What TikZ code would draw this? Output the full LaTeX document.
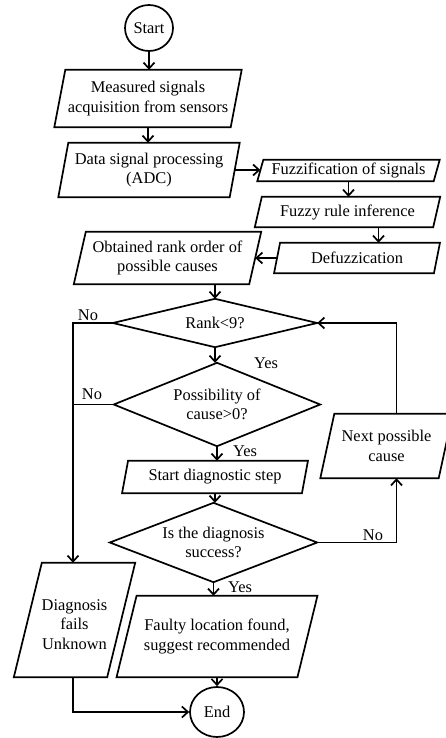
\documentclass[tikz,border=0pt]{standalone}
\usepackage{fontspec}
\setmainfont{Liberation Serif}
\usetikzlibrary{arrows.meta,calc,shapes.geometric}
\tikzset{
  txt/.style={font=\fontsize{16.4}{19.5}\selectfont},
  base/.style={txt, draw=none, inner sep=0pt, align=center},
  shp/.style={line width=1.7pt, line join=miter},
  ln/.style={line width=1.7pt},
  arr/.style={line width=1.7pt, -{Straight Barb[length=6pt,width=11pt,line width=1.7pt]}},
  lbl/.style={txt, inner sep=0pt},
  term/.style={txt, ellipse, draw, line width=1.7pt, inner sep=0pt},
}
\newcommand\parabox[2]{\draw[shp] ([xshift=#2]#1.north west) -- ([xshift=#2]#1.north east) -- ([xshift=-#2]#1.south east) -- ([xshift=-#2]#1.south west) -- cycle;}
\newcommand\diabox[1]{\draw[shp] (#1.north) -- (#1.east) -- (#1.south) -- (#1.west) -- cycle;}
\begin{document}
\begin{tikzpicture}[x=1pt,y=-1pt]
\useasboundingbox[fill=white] (0,0) rectangle (446,738);
% terminals
\node[term, minimum width=48, minimum height=46] (start) at (149,28) {Start};
\node[term, minimum width=54, minimum height=50] (end) at (217,712) {End};
% process boxes
\node[base, minimum width=176, minimum height=57] (p1) at (148,98.5) {Measured signals\\acquisition from sensors};
\node[base, minimum width=171, minimum height=54] (p2) at (149,170) {Data signal processing\\(ADC)};
\node[base, minimum width=176, minimum height=21] (f1) at (348.5,170.5) {Fuzzification of signals};
\node[base, minimum width=178, minimum height=30] (f2) at (347.5,212) {Fuzzy rule inference};
\node[base, minimum width=159.5, minimum height=30] (df) at (357,258) {Defuzzication};
\node[base, minimum width=175, minimum height=52] (ob) at (167.5,258) {Obtained rank order of\\possible causes};
\node[base, minimum width=179.5, minimum height=32] (sd) at (215,477) {Start diagnostic step};
\node[base, minimum width=118, minimum height=64] (np) at (386.5,446) {Next possible\\cause};
\node[base, minimum width=180.5, minimum height=81] (fl) at (217,636.5) {Faulty location found,\\suggest recommended};
\node[base, minimum width=93, minimum height=114] (fa) at (74.5,620) {\rule{0pt}{20pt}Diagnosis\\fails\\Unknown};
% decisions
\node[base, minimum width=204, minimum height=48] (d1) at (215,323) {Rank<9?};
\node[base, minimum width=206, minimum height=83] (d2) at (217,404.5) {Possibility of\\cause>0?};
\node[base, minimum width=207, minimum height=79] (d3) at (213.5,542.5) {Is the diagnosis\\success?};
% shapes
\parabox{p1}{5.5}
\parabox{p2}{5}
\parabox{f1}{3}
\parabox{f2}{3.5}
\parabox{df}{3}
\parabox{ob}{6}
\parabox{sd}{3}
\parabox{np}{7}
\parabox{fl}{10}
\parabox{fa}{14}
\diabox{d1}
\diabox{d2}
\diabox{d3}
% helper coordinates
\coordinate (lt) at ([xshift=-1.5]fa.north);
\coordinate (lb) at ([xshift=-1.5]fa.south);
\coordinate (rb) at ([xshift=10]np.south);
\coordinate (rt) at ([xshift=10]np.north);
\coordinate (ft) at ([xshift=31]f2.south);
% connectors
\draw[arr] (start.south) -- (start.south |- p1.north);
\draw[arr] (p1.south) -- (p1.south |- p2.north);
\draw[arr] (p2.east) -- (p2.east -| f1.west);
\draw[arr] (f1.south) -- (f1.south |- f2.north);
\draw[arr] (ft) -- (ft |- df.north);
\draw[arr] (df.west) -- (df.west -| ob.east);
\draw[arr] (d1.north |- ob.south) -- (d1.north);
\draw[arr] (d1.south) -- (d1.south |- d2.north);
\draw[arr] (d2.south) -- (d2.south |- sd.north);
\draw[arr] (sd.south) -- (sd.south |- d3.north);
\draw[arr] (d3.south) -- (d3.south |- fl.north);
\draw[arr] (fl.south) -- (fl.south |- end.north);
\draw[arr] (d1.west) -| (lt);
\draw[ln] (d2.west) -- (d2.west -| lt);
\draw[arr] (lb) |- (end.west);
\draw[arr] (d3.east) -| (rb);
\draw[arr] (rt) |- (d1.east);
% labels
\node[lbl] (no1) at (88,315) {No};
\node[lbl] (yes1) at (266,363) {Yes};
\node[lbl] (no2) at (92,394) {No};
\node[lbl] (yes2) at (245,451) {Yes};
\node[lbl] (no3) at (373,535) {No};
\node[lbl] (yes3) at (240,587) {Yes};
\end{tikzpicture}
\end{document}
